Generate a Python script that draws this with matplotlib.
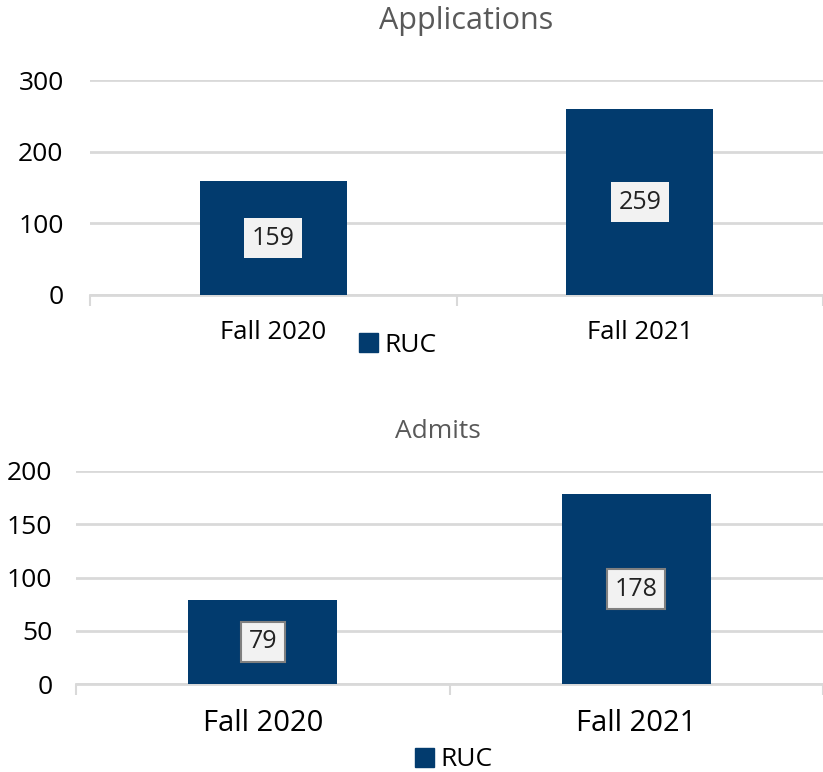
import matplotlib
matplotlib.use("Agg")
import matplotlib.pyplot as plt
from matplotlib.patches import Patch

plt.rcParams["font.family"] = ["Open Sans", "DejaVu Sans"]

categories = ["Fall 2020", "Fall 2021"]
applications = [159, 259]
admits = [79, 178]
series_name = "RUC"

barColor = "#023b6e"
gridColor = "#d9d9d9"
titleColor = "#595959"

fig = plt.figure(figsize=(8.23, 7.72), dpi=100)

def draw(ax, values, title, ymax, ystep, tickSize, xlabSize, xpad, titleSize, boxEdge, titleX, titleY, ypad):
    x = list(range(len(categories)))
    bars = ax.bar(x, values, width=0.40, color=barColor, zorder=3)
    ax.set_xlim(-0.5, len(categories) - 0.5)
    ax.set_ylim(0, ymax)
    ax.set_yticks(range(0, ymax + 1, ystep))
    ax.yaxis.grid(True, color=gridColor, lw=2, zorder=0)
    ax.set_axisbelow(True)
    for s in ["left", "right", "top"]:
        ax.spines[s].set_visible(False)
    ax.spines["bottom"].set_color(gridColor)
    ax.spines["bottom"].set_linewidth(2)
    ax.set_xticks(x)
    ax.set_xticklabels(categories, fontsize=xlabSize)
    ax.tick_params(axis="x", which="major", length=0, pad=xpad)
    ax.set_xticks([-0.5 + i for i in range(len(categories) + 1)], minor=True)
    ax.tick_params(axis="x", which="minor", length=8, width=1.5, color=gridColor)
    ax.tick_params(axis="y", length=0, labelsize=tickSize, pad=ypad)
    for b, v in zip(bars, values):
        ax.text(b.get_x() + b.get_width() / 2, v / 2, str(v), ha="center", va="center",
                fontsize=18, color="#222222", zorder=5,
                bbox=dict(boxstyle="square,pad=0.3", fc="#f2f2f2",
                          ec=boxEdge if boxEdge else "none", lw=1.5))
    fig.text(titleX, titleY, title, ha="center", va="center", fontsize=titleSize, color=titleColor)

ax1 = fig.add_axes([90 / 823, 1 - 295 / 772, 1 - 90 / 823, 215 / 772])
draw(ax1, applications, "Applications", 300, 100, 19, 18.5, 18, 22, None,
     466 / 823, 1 - 21 / 772, 19)

ax2 = fig.add_axes([76 / 823, 1 - 684 / 772, 1 - 76 / 823, 213 / 772])
draw(ax2, admits, "Admits", 200, 50, 19, 21, 18, 19, "#808080",
     438 / 823, 1 - 432 / 772, 17)

handle = [Patch(color=barColor)]
fig.legend(handle, [series_name], loc="center", bbox_to_anchor=(398 / 823, 1 - 345 / 772),
           frameon=False, fontsize=19, handlelength=0.7, handleheight=0.7, handletextpad=0.25)
fig.legend(handle, [series_name], loc="center", bbox_to_anchor=(454 / 823, 1 - 760 / 772),
           frameon=False, fontsize=19, handlelength=0.7, handleheight=0.7, handletextpad=0.25)

fig.savefig("out.png", dpi=100)
